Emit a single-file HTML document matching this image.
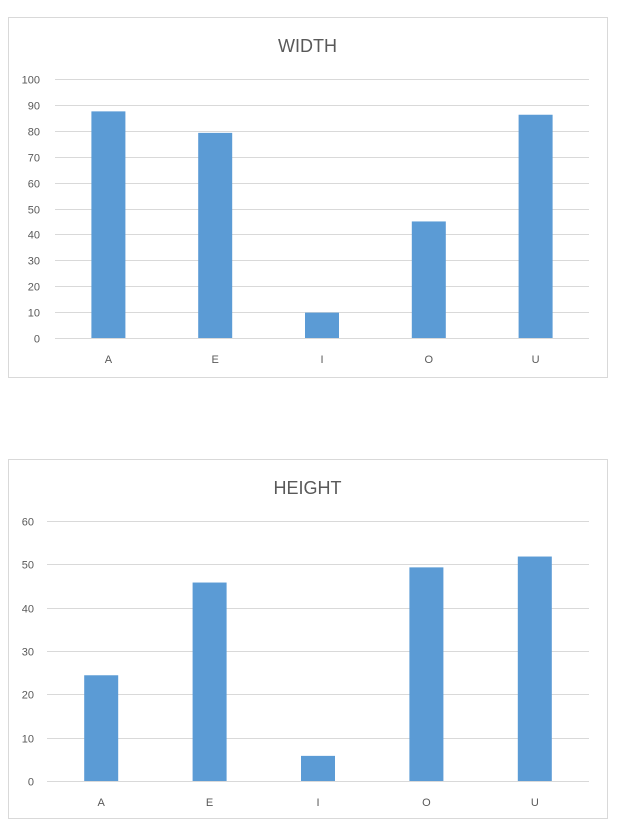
<!DOCTYPE html>
<html><head><style>
body{margin:0;background:#fff;width:626px;height:837px;overflow:hidden;font-family:"Liberation Sans",sans-serif}
svg{position:absolute;left:0;top:0}
</style></head><body>
<svg id="s" width="626" height="837"></svg>
<script>
const categories=["A","E","I","O","U"];
const widthValues=[87.5,79.2,9.8,45,86.2];
const widthTicks=[0,10,20,30,40,50,60,70,80,90,100];
const heightValues=[24.4,45.8,5.8,49.3,51.8];
const heightTicks=[0,10,20,30,40,50,60];
const NS="http://www.w3.org/2000/svg";
const svg=document.getElementById("s");
function mk(tag,attrs,parent){const e=document.createElementNS(NS,tag);for(const k in attrs)e.setAttribute(k,attrs[k]);(parent||svg).appendChild(e);return e;}
function chart(name,title,box,plot,vals,ticks,maxV,barW,labelRight){
  const g=mk("g",{});
  
  
  const r=mk("rect",{x:box.x+0.5,y:box.y+0.5,width:box.w,height:box.h,fill:"#fff",stroke:"#d9d9d9"},g);
  
  
  const t=mk("text",{x:(box.x+box.x+box.w)/2,y:box.y+35,"text-anchor":"middle","font-size":"18",fill:"#595959"},g);
  t.textContent=title;
  
  
  const yS=v=>plot.y0-(v/maxV)*(plot.y0-plot.y1);
  ticks.forEach(v=>{
    const y=Math.round(yS(v))+0.5;
    const l=mk("line",{x1:plot.x0,x2:plot.x1,y1:y,y2:y,stroke:"#d9d9d9","stroke-width":1},g);
    
    
    const tx=mk("text",{x:labelRight,y:y+4,"text-anchor":"end","font-size":"11",fill:"#595959"},g);
    tx.textContent=v;
    
    
  });
  const step=(plot.x1-plot.x0)/categories.length;
  categories.forEach((c,i)=>{
    const cx=plot.x0+step*(i+0.5);
    const b=mk("rect",{x:cx-barW/2,y:yS(vals[i]),width:barW,height:plot.y0-yS(vals[i]),fill:"#5b9bd5"},g);
    
    
    const tx=mk("text",{x:cx,y:plot.y0+25,"text-anchor":"middle","font-size":"11",fill:"#595959"},g);
    tx.textContent=c;
    
    
  });
}
chart("width","WIDTH",{x:8,y:17,w:599,h:360},{x0:55,x1:589,y0:338,y1:79},widthValues,widthTicks,100,34,40);
chart("height","HEIGHT",{x:8,y:459,w:599,h:359},{x0:47,x1:589,y0:781,y1:521},heightValues,heightTicks,60,34,34);
</script>
</body></html>
